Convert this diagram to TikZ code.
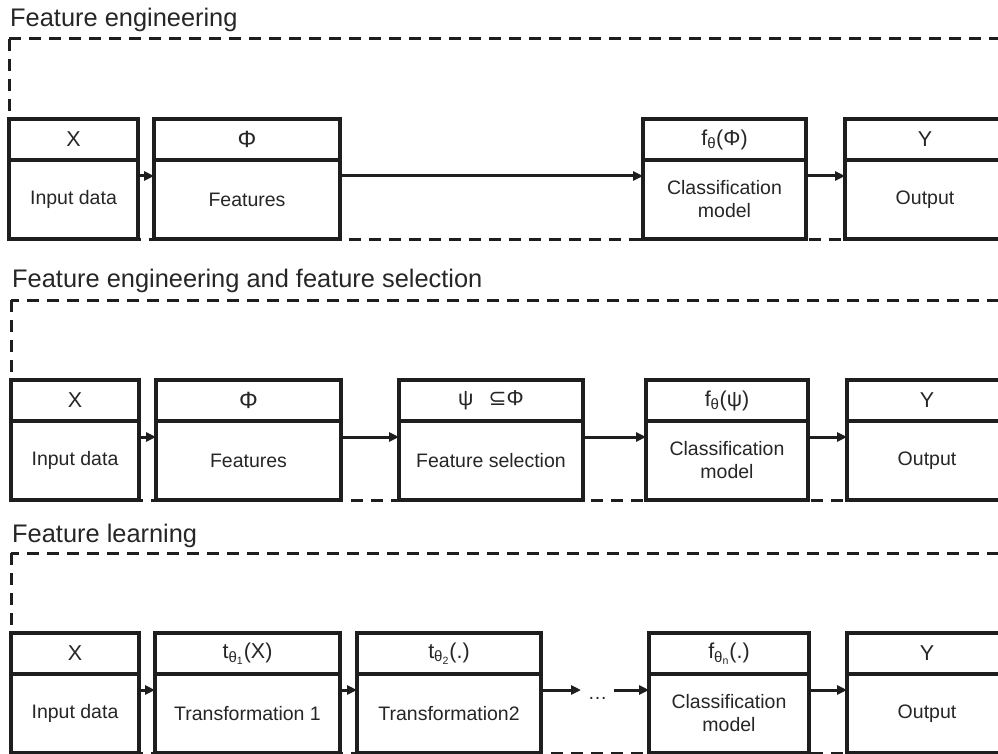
\documentclass[tikz,border=0pt]{standalone}
\usepackage{fontspec}
\setmainfont{Liberation Sans}
\newfontfamily\symfont{DejaVu Sans}
\usetikzlibrary{positioning,arrows.meta}
\definecolor{lnblack}{HTML}{1E1E1E}
\definecolor{txgray}{HTML}{262626}
\tikzset{
  hdbox/.style={draw=lnblack, line width=3.2pt, fill=white, outer sep=0pt, inner sep=0pt,
    minimum height=41pt, text=txgray, font=\fontsize{21.5}{24}\selectfont},
  bdbox/.style={hdbox, minimum height=79pt, align=center, font=\fontsize{19.5}{23}\selectfont},
  panel/.style={draw=lnblack, line width=3pt, dash pattern=on 12pt off 8pt},
  flow/.style={draw=lnblack, line width=3pt, -{Triangle[length=10pt,width=9pt]}},
  ptitle/.style={anchor=base west, inner sep=0pt, text=txgray, font=\fontsize{25.4}{29}\selectfont},
}

\begin{document}
\begin{tikzpicture}[x=1pt, y=-1pt]
  \useasboundingbox (0,0) rectangle (998,754);

  % feature engineering
  \node[ptitle] (tt1) at (10,27) {Feature engineering};
  \draw[panel] (9,39) rectangle (1015,239);
  \node[hdbox, minimum width=129pt] (in1h) at (73.5,139.5) {X};
  \node[bdbox, minimum width=129pt, below=0pt of in1h] (in1) {Input data};
  \node[hdbox, minimum width=186pt] (ft1h) at (247,139.5) {\fontsize{23.5}{24}\selectfont Φ};
  \node[bdbox, minimum width=186pt, below=0pt of ft1h] (ft1) {Features};
  \node[hdbox, minimum width=163pt] (cm1h) at (724.5,139.5) {f\textsubscript{θ}(Φ)};
  \node[bdbox, minimum width=163pt, below=0pt of cm1h] (cm1) {Classification\\model};
  \node[hdbox, minimum width=160pt] (ou1h) at (925,139.5) {Y};
  \node[bdbox, minimum width=160pt, below=0pt of ou1h] (ou1) {Output};
  \draw[flow] ([yshift=-16pt]in1.north east) -- ([yshift=-16pt]ft1.north west);
  \draw[flow] ([yshift=-16pt]ft1.north east) -- ([yshift=-16pt]cm1.north west);
  \draw[flow] ([yshift=-16pt]cm1.north east) -- ([yshift=-16pt]ou1.north west);

  % feature engineering and feature selection
  \node[ptitle] (tt2) at (12,287) {Feature engineering and feature selection};
  \draw[panel] (11,300) rectangle (1015,500);
  \node[hdbox, minimum width=128pt] (in2h) at (75,400.5) {X};
  \node[bdbox, minimum width=128pt, below=0pt of in2h] (in2) {Input data};
  \node[hdbox, minimum width=185pt] (ft2h) at (248.5,400.5) {\fontsize{23.5}{24}\selectfont Φ};
  \node[bdbox, minimum width=185pt, below=0pt of ft2h] (ft2) {Features};
  \node[hdbox, minimum width=184pt] (fs2h) at (491,400.5) {ψ\hspace{0.7em}{\symfont ⊆}Φ};
  \node[bdbox, minimum width=184pt, below=0pt of fs2h] (fs2) {Feature selection};
  \node[hdbox, minimum width=162pt] (cm2h) at (727,400.5) {f\textsubscript{θ}(ψ)};
  \node[bdbox, minimum width=162pt, below=0pt of cm2h] (cm2) {Classification\\model};
  \node[hdbox, minimum width=160pt] (ou2h) at (927,400.5) {Y};
  \node[bdbox, minimum width=160pt, below=0pt of ou2h] (ou2) {Output};
  \draw[flow] ([yshift=-16pt]in2.north east) -- ([yshift=-16pt]ft2.north west);
  \draw[flow] ([yshift=-16pt]ft2.north east) -- ([yshift=-16pt]fs2.north west);
  \draw[flow] ([yshift=-16pt]fs2.north east) -- ([yshift=-16pt]cm2.north west);
  \draw[flow] ([yshift=-16pt]cm2.north east) -- ([yshift=-16pt]ou2.north west);

  % feature learning
  \node[ptitle] (tt3) at (12,542) {Feature learning};
  \draw[panel] (11,553) rectangle (1015,753);
  \node[hdbox, minimum width=128pt] (in3h) at (75,653.5) {X};
  \node[bdbox, minimum width=128pt, below=0pt of in3h] (in3) {Input data};
  \node[hdbox, minimum width=185pt] (ta3h) at (247.5,653.5) {t\textsubscript{θ\textsubscript{1}}(X)};
  \node[bdbox, minimum width=185pt, below=0pt of ta3h] (ta3) {Transformation 1};
  \node[hdbox, minimum width=184pt] (tb3h) at (449,653.5) {t\textsubscript{θ\textsubscript{2}}(.)};
  \node[bdbox, minimum width=184pt, below=0pt of tb3h] (tb3) {Transformation2};
  \node[hdbox, minimum width=160pt] (cm3h) at (729,653.5) {f\textsubscript{θ\textsubscript{n}}(.)};
  \node[bdbox, minimum width=160pt, below=0pt of cm3h] (cm3) {Classification\\model};
  \node[hdbox, minimum width=160pt] (ou3h) at (927,653.5) {Y};
  \node[bdbox, minimum width=160pt, below=0pt of ou3h] (ou3) {Output};
  \coordinate (d3a) at (581,690);
  \coordinate (d3b) at (614,690);
  \node[anchor=base, inner sep=0pt, text=txgray, font=\fontsize{19.5}{22}\selectfont] (dt3) at (597.5,699) {\dots};
  \draw[flow] ([yshift=-16pt]in3.north east) -- ([yshift=-16pt]ta3.north west);
  \draw[flow] ([yshift=-16pt]ta3.north east) -- ([yshift=-16pt]tb3.north west);
  \draw[flow] ([yshift=-16pt]tb3.north east) -- (d3a);
  \draw[flow] (d3b) -- ([yshift=-16pt]cm3.north west);
  \draw[flow] ([yshift=-16pt]cm3.north east) -- ([yshift=-16pt]ou3.north west);
\end{tikzpicture}
\end{document}
